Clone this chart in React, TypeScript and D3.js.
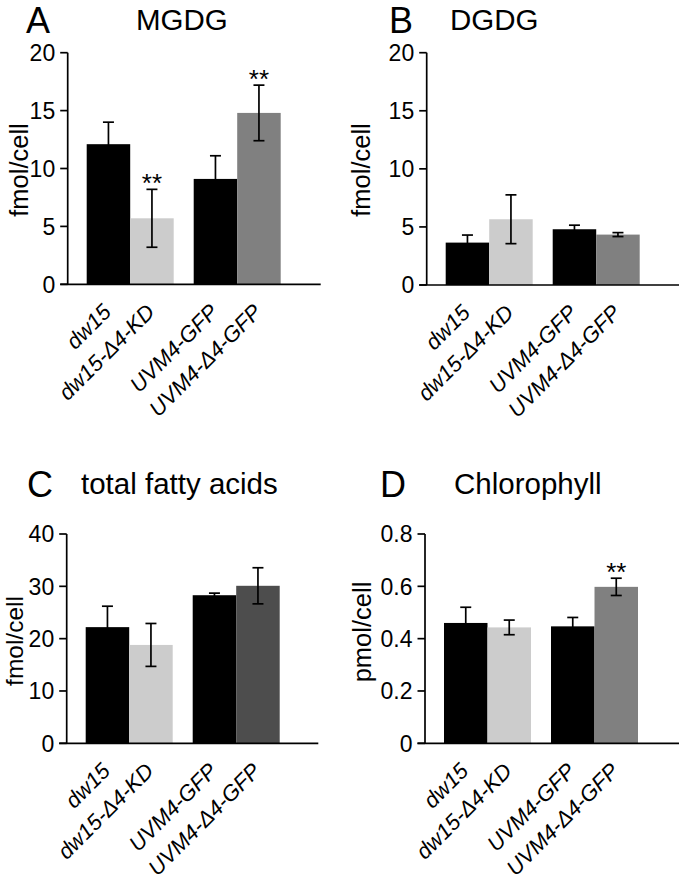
import React from "react";
import * as d3 from "d3";

const categories = ["dw15", "dw15-Δ4-KD", "UVM4-GFP", "UVM4-Δ4-GFP"];
const groups = ["dw15", "UVM4"];

const mgdgMean = [12.1, 5.7, 9.1, 14.8];
const mgdgErr = [1.9, 2.5, 2.0, 2.4];
const mgdgSig = [false, true, false, true];

const dgdgMean = [3.65, 5.66, 4.8, 4.34];
const dgdgErr = [0.65, 2.1, 0.35, 0.17];
const dgdgSig = [false, false, false, false];

const faMean = [22.2, 18.8, 28.3, 30.1];
const faErr = [4.0, 4.1, 0.4, 3.45];
const faSig = [false, false, false, false];

const chlMean = [0.46, 0.443, 0.447, 0.598];
const chlErr = [0.06, 0.028, 0.034, 0.033];
const chlSig = [false, false, false, true];

const ticks20 = [0, 5, 10, 15, 20];
const ticks40 = [0, 10, 20, 30, 40];
const ticks08 = [0, 0.2, 0.4, 0.6, 0.8];

const colorsStd = ["#000000", "#cccccc", "#000000", "#808080"];
const colorsFA = ["#000000", "#cccccc", "#000000", "#4d4d4d"];

const FONT = "'Liberation Sans', Arial, Helvetica, sans-serif";

type PanelProps = {
  axisX: number;
  xEnd: number;
  yTop: number;
  yBottom: number;
  ticks: number[];
  fmt: (v: number) => string;
  means: number[];
  errs: number[];
  sig: boolean[];
  colors: string[];
  letter: string;
  letterX: number;
  title: string;
  titleX: number;
  titleY: number;
  ylabel: string;
  ylabelX: number;
  ylabelY: number;
  ylabelSize: number;
};

function Panel(p: PanelProps) {
  const yMax = p.ticks[p.ticks.length - 1];
  const y = d3.scaleLinear().domain([0, yMax]).range([p.yBottom, p.yTop]);
  const xg = d3
    .scaleBand()
    .domain(groups)
    .range([p.axisX + 19, p.axisX + 213])
    .paddingInner(0.187)
    .paddingOuter(0);
  const xi = d3.scaleBand().domain(["a", "b"]).range([0, xg.bandwidth()]).padding(0);
  const tickLen = 7.5;
  const capW = 11;
  const bars = categories.map((c, i) => {
    const g = groups[Math.floor(i / 2)];
    const x = (xg(g) as number) + (xi(i % 2 === 0 ? "a" : "b") as number);
    const w = xi.bandwidth();
    return { c, i, x, w, cx: x + w / 2 };
  });
  return (
    <g fontFamily={FONT} fill="#000">
      <text x={p.letterX} y={p.titleY + 3} fontSize={36}>
        {p.letter}
      </text>
      <text x={p.titleX} y={p.titleY} fontSize={29.5}>
        {p.title}
      </text>
      <text
        transform={`translate(${p.ylabelX},${p.ylabelY}) rotate(-90)`}
        textAnchor="middle"
        fontSize={p.ylabelSize}
      >
        {p.ylabel}
      </text>
      {bars.map((b) => (
        <rect
          key={b.c}
          x={b.x}
          width={b.w}
          y={y(p.means[b.i])}
          height={p.yBottom - y(p.means[b.i])}
          fill={p.colors[b.i]}
        />
      ))}
      {bars.map((b) => {
        const hi = y(p.means[b.i] + p.errs[b.i]);
        const lo = y(p.means[b.i] - p.errs[b.i]);
        return (
          <g key={"e" + b.c} stroke="#000" strokeWidth={1.7}>
            <line x1={b.cx} x2={b.cx} y1={hi} y2={lo} />
            <line x1={b.cx - capW / 2} x2={b.cx + capW / 2} y1={hi} y2={hi} />
            <line x1={b.cx - capW / 2} x2={b.cx + capW / 2} y1={lo} y2={lo} />
          </g>
        );
      })}
      {bars
        .filter((b) => p.sig[b.i])
        .map((b) => (
          <text
            key={"s" + b.c}
            x={b.cx}
            y={y(p.means[b.i] + p.errs[b.i]) + 3}
            textAnchor="middle"
            fontSize={26}
          >
            **
          </text>
        ))}
      <g stroke="#000" strokeWidth={1.7} fill="none">
        <line x1={p.axisX} x2={p.axisX} y1={p.yTop} y2={p.yBottom} />
        <line x1={p.axisX - tickLen} x2={p.xEnd} y1={p.yBottom} y2={p.yBottom} />
        {p.ticks.map((t) => (
          <line key={t} x1={p.axisX - tickLen} x2={p.axisX} y1={y(t)} y2={y(t)} />
        ))}
      </g>
      {p.ticks.map((t) => (
        <text
          key={"t" + t}
          x={p.axisX - tickLen - 5}
          y={y(t)}
          dy="0.36em"
          textAnchor="end"
          fontSize={23}
        >
          {p.fmt(t)}
        </text>
      ))}
      {bars.map((b) => (
        <text
          key={"l" + b.c}
          transform={`translate(${b.cx + 4},${p.yBottom + 29}) rotate(-45)`}
          textAnchor="end"
          fontSize={22}
          fontStyle="italic"
        >
          {b.c}
        </text>
      ))}
    </g>
  );
}

const intFmt = (v: number) => String(v);
const decFmt = (v: number) => (v === 0 ? "0" : d3.format(".1f")(v));

export default function App() {
  return (
    <svg
      width={680}
      height={885}
      style={{ position: "absolute", left: 0, top: 0, background: "#fff" }}
    >
      <rect width={680} height={885} fill="#fff" />
      <Panel
        axisX={67.7}
        xEnd={320.7}
        yTop={52.7}
        yBottom={284.3}
        ticks={ticks20}
        fmt={intFmt}
        means={mgdgMean}
        errs={mgdgErr}
        sig={mgdgSig}
        colors={colorsStd}
        letter="A"
        letterX={26}
        title="MGDG"
        titleX={136}
        titleY={30}
        ylabel="fmol/cell"
        ylabelX={28}
        ylabelY={170}
        ylabelSize={25.5}
      />
      <Panel
        axisX={426.7}
        xEnd={679}
        yTop={52.7}
        yBottom={285}
        ticks={ticks20}
        fmt={intFmt}
        means={dgdgMean}
        errs={dgdgErr}
        sig={dgdgSig}
        colors={colorsStd}
        letter="B"
        letterX={389}
        title="DGDG"
        titleX={450}
        titleY={30}
        ylabel="fmol/cell"
        ylabelX={370}
        ylabelY={170}
        ylabelSize={25.5}
      />
      <Panel
        axisX={66.7}
        xEnd={318.3}
        yTop={534}
        yBottom={743.3}
        ticks={ticks40}
        fmt={intFmt}
        means={faMean}
        errs={faErr}
        sig={faSig}
        colors={colorsFA}
        letter="C"
        letterX={27}
        title="total fatty acids"
        titleX={81}
        titleY={494}
        ylabel="fmol/cell"
        ylabelX={23}
        ylabelY={641}
        ylabelSize={24.5}
      />
      <Panel
        axisX={425}
        xEnd={679}
        yTop={534}
        yBottom={743.3}
        ticks={ticks08}
        fmt={decFmt}
        means={chlMean}
        errs={chlErr}
        sig={chlSig}
        colors={colorsStd}
        letter="D"
        letterX={380}
        title="Chlorophyll"
        titleX={454}
        titleY={494}
        ylabel="pmol/cell"
        ylabelX={371}
        ylabelY={632}
        ylabelSize={25.5}
      />
    </svg>
  );
}
